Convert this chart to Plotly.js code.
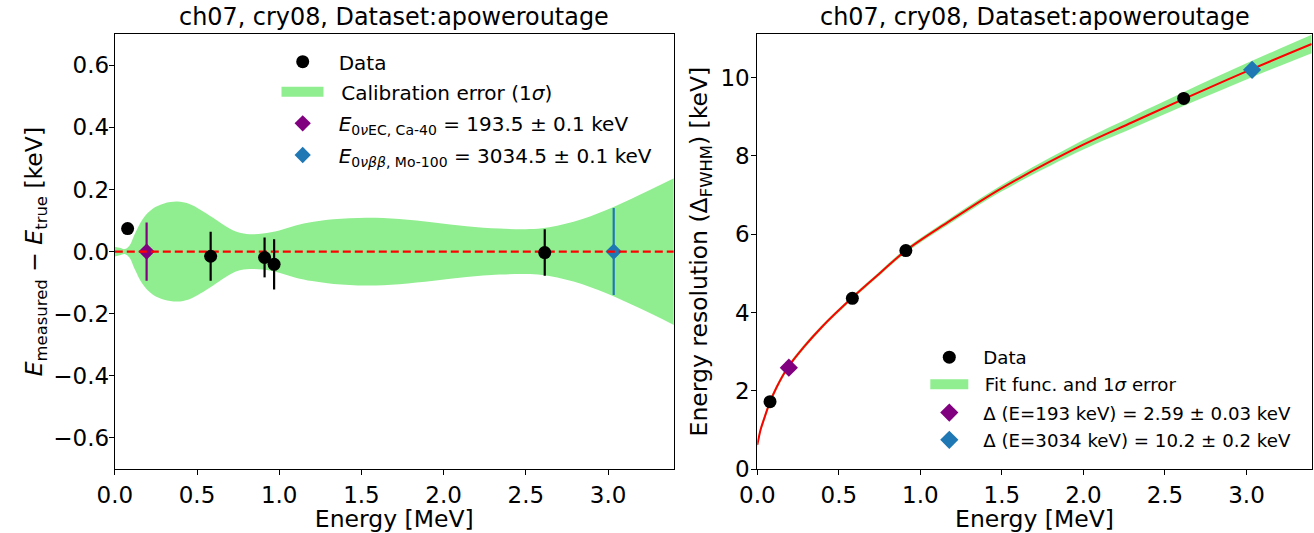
<!DOCTYPE html>
<html>
<head>
<meta charset="utf-8">
<script src="https://cdn.plot.ly/plotly-3.0.1.min.js"></script>
<style>
  html, body { margin: 0; padding: 0; background: #ffffff; }
  #chart { width: 1314px; height: 533px; }
</style>
</head>
<body>
<div id="chart"></div>
<script>
// ---- Calibration residuals (left panel) ----
const lineEnergies   = [0.078, 0.583, 0.911, 0.969, 2.615];      // MeV
const residuals      = [0.074, -0.015, -0.019, -0.041, -0.003];   // keV
const residualErr    = [0.010, 0.079, 0.064, 0.081, 0.075];       // keV

const calibBandE     = [0.00, 0.03, 0.06, 0.09, 0.12, 0.17, 0.23, 0.30, 0.38, 0.45, 0.52, 0.60, 0.68, 0.75, 0.82, 0.90,
                        1.00, 1.10, 1.20, 1.33, 1.53, 1.73, 1.94, 2.14, 2.34, 2.50, 2.60, 2.79, 2.99, 3.19, 3.40];
const calibBandHalf  = [0.016, 0.012, 0.008, 0.020, 0.055, 0.105, 0.138, 0.155, 0.161, 0.154, 0.135, 0.108, 0.080, 0.062, 0.056, 0.058,
                        0.068, 0.084, 0.095, 0.104, 0.109, 0.105, 0.094, 0.082, 0.074, 0.072, 0.075, 0.096, 0.134, 0.182, 0.236];

const ca40E = 0.1935, ca40Resid = 0.0, ca40ResidErr = 0.094;      // 0νEC Ca-40
const mo100E = 3.0345, mo100Resid = 0.0, mo100ResidErr = 0.140;   // 0νββ Mo-100
const zeroLineE = [0.0, 3.4];
const zeroLineV = [0.0, 0.0];

// ---- Energy resolution (right panel) ----
const resEnergies = [0.078, 0.583, 0.911, 2.615];   // MeV
const fwhm        = [1.72, 4.36, 5.58, 9.47];       // keV
const fwhmErr     = [0.10, 0.10, 0.10, 0.15];

const fitE     = [0.00, 0.01, 0.02, 0.04, 0.077, 0.12, 0.185, 0.286, 0.396, 0.583, 0.748, 0.911, 1.167, 1.497, 1.996, 2.30, 2.613, 3.00, 3.40];
const fitFwhm  = [0.62, 0.82, 1.00, 1.26, 1.70, 2.10, 2.58, 3.12, 3.63, 4.38, 4.99, 5.58, 6.30, 7.17, 8.28, 8.86, 9.45, 10.16, 10.86];
const fitHalf  = [0.09, 0.085, 0.08, 0.075, 0.07, 0.065, 0.06, 0.055, 0.05, 0.05, 0.052, 0.056, 0.065, 0.08, 0.12, 0.15, 0.175, 0.205, 0.235];

const ca40Fwhm = 2.59, ca40FwhmErr = 0.03;
const mo100Fwhm = 10.2, mo100FwhmErr = 0.2;

// ---- styling ----
const FONT = 'DejaVu Sans, Verdana, sans-serif';
const GREEN = '#90ee90';
const PURPLE = '#800080';
const BLUE = '#1f77b4';
const NB = '\u00a0\u00a0';

const calibUpper = calibBandHalf.map(h => h);
const calibLower = calibBandHalf.map(h => -h);
const fitUpper = fitFwhm.map((v, i) => v + fitHalf[i]);
const fitLower = fitFwhm.map((v, i) => v - fitHalf[i]);

const traces = [
  // left: calibration band
  { x: calibBandE, y: calibLower, xaxis: 'x', yaxis: 'y', mode: 'lines',
    line: { width: 0, shape: 'spline', smoothing: 1 }, showlegend: false, hoverinfo: 'skip' },
  { x: calibBandE, y: calibUpper, xaxis: 'x', yaxis: 'y', mode: 'lines', fill: 'tonexty',
    fillcolor: GREEN, line: { width: 0, color: GREEN, shape: 'spline', smoothing: 1 },
    showlegend: false, legendgroup: 'calib', hoverinfo: 'skip' },
  // legend swatch for the band
  { x: [null], y: [null], xaxis: 'x', yaxis: 'y', mode: 'lines', legendgroup: 'calib',
    line: { width: 16, color: GREEN }, name: NB + 'Calibration error (1<i>σ</i>)', legend: 'legend2' },
  // left: ROI energies
  { x: [ca40E], y: [ca40Resid], xaxis: 'x', yaxis: 'y', mode: 'markers',
    marker: { symbol: 'diamond', size: 12.5, color: PURPLE },
    error_y: { type: 'data', array: [ca40ResidErr], width: 0, thickness: 2.2, color: PURPLE },
    name: '<i>E</i><sub>0<i>ν</i>EC, Ca-40</sub> = 193.5 ± 0.1 keV', legend: 'legend3' },
  { x: [mo100E], y: [mo100Resid], xaxis: 'x', yaxis: 'y', mode: 'markers',
    marker: { symbol: 'diamond', size: 12.5, color: BLUE },
    error_y: { type: 'data', array: [mo100ResidErr], width: 0, thickness: 2.2, color: BLUE },
    name: '<i>E</i><sub>0<i>νββ</i>, Mo-100</sub> = 3034.5 ± 0.1 keV', legend: 'legend4' },
  // left: zero reference
  { x: zeroLineE, y: zeroLineV, xaxis: 'x', yaxis: 'y', mode: 'lines',
    line: { color: '#ff0000', width: 2.4, dash: '8px,4px' }, showlegend: false, hoverinfo: 'skip' },
  // left: data
  { x: lineEnergies, y: residuals, xaxis: 'x', yaxis: 'y', mode: 'markers',
    marker: { symbol: 'circle', size: 13, color: '#000000' },
    error_y: { type: 'data', array: residualErr, width: 0, thickness: 2.2, color: '#000000' },
    name: 'Data', legend: 'legend' },

  // right: fit band and curve
  { x: fitE, y: fitLower, xaxis: 'x2', yaxis: 'y2', mode: 'lines',
    line: { width: 0, shape: 'spline', smoothing: 1 }, showlegend: false, hoverinfo: 'skip' },
  { x: fitE, y: fitUpper, xaxis: 'x2', yaxis: 'y2', mode: 'lines', fill: 'tonexty',
    fillcolor: GREEN, line: { width: 0, color: GREEN, shape: 'spline', smoothing: 1 },
    showlegend: false, legendgroup: 'fit', hoverinfo: 'skip' },
  { x: [null], y: [null], xaxis: 'x2', yaxis: 'y2', mode: 'lines', legendgroup: 'fit',
    line: { width: 16, color: GREEN }, name: NB + 'Fit func. and 1<i>σ</i> error', legend: 'legend6' },
  { x: fitE, y: fitFwhm, xaxis: 'x2', yaxis: 'y2', mode: 'lines',
    line: { color: '#ff0000', width: 2, shape: 'spline', smoothing: 1 }, showlegend: false, hoverinfo: 'skip' },
  // right: data
  { x: resEnergies, y: fwhm, xaxis: 'x2', yaxis: 'y2', mode: 'markers',
    marker: { symbol: 'circle', size: 13, color: '#000000' },
    error_y: { type: 'data', array: fwhmErr, width: 0, thickness: 2, color: '#000000' },
    name: 'Data', legend: 'legend5' },
  // right: resolution at ROI energies
  { x: [ca40E], y: [ca40Fwhm], xaxis: 'x2', yaxis: 'y2', mode: 'markers',
    marker: { symbol: 'diamond', size: 14, color: PURPLE },
    error_y: { type: 'data', array: [ca40FwhmErr], width: 0, thickness: 2, color: PURPLE },
    name: 'Δ (E=193 keV) = 2.59 ± 0.03 keV', legend: 'legend7' },
  { x: [mo100E], y: [mo100Fwhm], xaxis: 'x2', yaxis: 'y2', mode: 'markers',
    marker: { symbol: 'diamond', size: 14, color: BLUE },
    error_y: { type: 'data', array: [mo100FwhmErr], width: 0, thickness: 2, color: BLUE },
    name: 'Δ (E=3034 keV) = 10.2 ± 0.2 keV', legend: 'legend8' }
];

const W = 1314, H = 533;
const px = v => v / W;
const py = v => 1 - v / H;

function legendAt(xLeft, yMid, size, itemwidth) {
  return { x: px(xLeft), y: py(yMid), xanchor: 'left', yanchor: 'middle',
           bgcolor: 'rgba(0,0,0,0)', borderwidth: 0, itemwidth: itemwidth,
           font: { family: FONT, size: size, color: '#000000' }, itemclick: false, itemdoubleclick: false };
}

const TICK = 23, LABEL = 23.5, TITLE = 23.9;

const axisCommon = {
  showline: true, linecolor: '#000000', linewidth: 1, mirror: true,
  ticks: 'outside', ticklen: 5, tickwidth: 1, tickcolor: '#000000',
  showgrid: false, zeroline: false, automargin: false,
  tickfont: { family: FONT, size: TICK, color: '#000000' }
};

const layout = {
  width: W, height: H,
  margin: { l: 0, r: 0, t: 0, b: 0 },
  paper_bgcolor: '#ffffff', plot_bgcolor: '#ffffff',
  font: { family: FONT, color: '#000000' },
  xaxis: Object.assign({}, axisCommon, {
    domain: [px(114.8), px(673.8)], anchor: 'y', range: [0, 3.4],
    tickmode: 'linear', tick0: 0, dtick: 0.5, tickformat: '.1f',
    title: { text: 'Energy [MeV]', font: { family: FONT, size: LABEL }, standoff: 3 }
  }),
  yaxis: Object.assign({}, axisCommon, {
    domain: [1 - 469 / H, 1 - 34.2 / H], anchor: 'x', range: [-0.7, 0.7],
    tickmode: 'linear', tick0: -0.6, dtick: 0.2, tickformat: '.1f', ticklabelstandoff: -5,
    title: { text: '<i>E</i><sub>measured</sub> − <i>E</i><sub>true</sub> [keV]', font: { family: FONT, size: LABEL }, standoff: 4 }
  }),
  xaxis2: Object.assign({}, axisCommon, {
    domain: [px(757.3), px(1311.7)], anchor: 'y2', range: [0, 3.4],
    tickmode: 'linear', tick0: 0, dtick: 0.5, tickformat: '.1f',
    title: { text: 'Energy [MeV]', font: { family: FONT, size: LABEL }, standoff: 3 }
  }),
  yaxis2: Object.assign({}, axisCommon, {
    domain: [1 - 469 / H, 1 - 34.2 / H], anchor: 'x2', range: [0, 11.11],
    tickmode: 'linear', tick0: 0, dtick: 2, ticklabelstandoff: -3,
    title: { text: 'Energy resolution (Δ<sub>FWHM</sub>) [keV]', font: { family: FONT, size: LABEL }, standoff: 6 }
  }),
  legend:  legendAt(302.7 - 36, 61.7, 20, 62),
  legend2: legendAt(302.5 - 26, 91.7, 20, 42),
  legend3: legendAt(302.7 - 36, 123.3, 20, 62),
  legend4: legendAt(302.7 - 36, 155.0, 20, 62),
  legend5: legendAt(949.3 - 34, 357.3, 18.2, 58),
  legend6: legendAt(949.3 - 24, 384.3, 18.2, 38),
  legend7: legendAt(949.3 - 34, 412.7, 18.2, 58),
  legend8: legendAt(949.3 - 34, 440.0, 18.2, 58),
  annotations: [
    { text: 'ch07, cry08, Dataset:apoweroutage', xref: 'paper', yref: 'paper',
      x: px((114.8 + 673.8) / 2), y: py(17), xanchor: 'center', yanchor: 'middle', showarrow: false,
      font: { family: FONT, size: TITLE, color: '#000000' } },
    { text: 'ch07, cry08, Dataset:apoweroutage', xref: 'paper', yref: 'paper',
      x: px((757.3 + 1311.7) / 2), y: py(17), xanchor: 'center', yanchor: 'middle', showarrow: false,
      font: { family: FONT, size: TITLE, color: '#000000' } }
  ]
};

Plotly.newPlot('chart', traces, layout, { displayModeBar: false, staticPlot: true });
</script>
</body>
</html>
